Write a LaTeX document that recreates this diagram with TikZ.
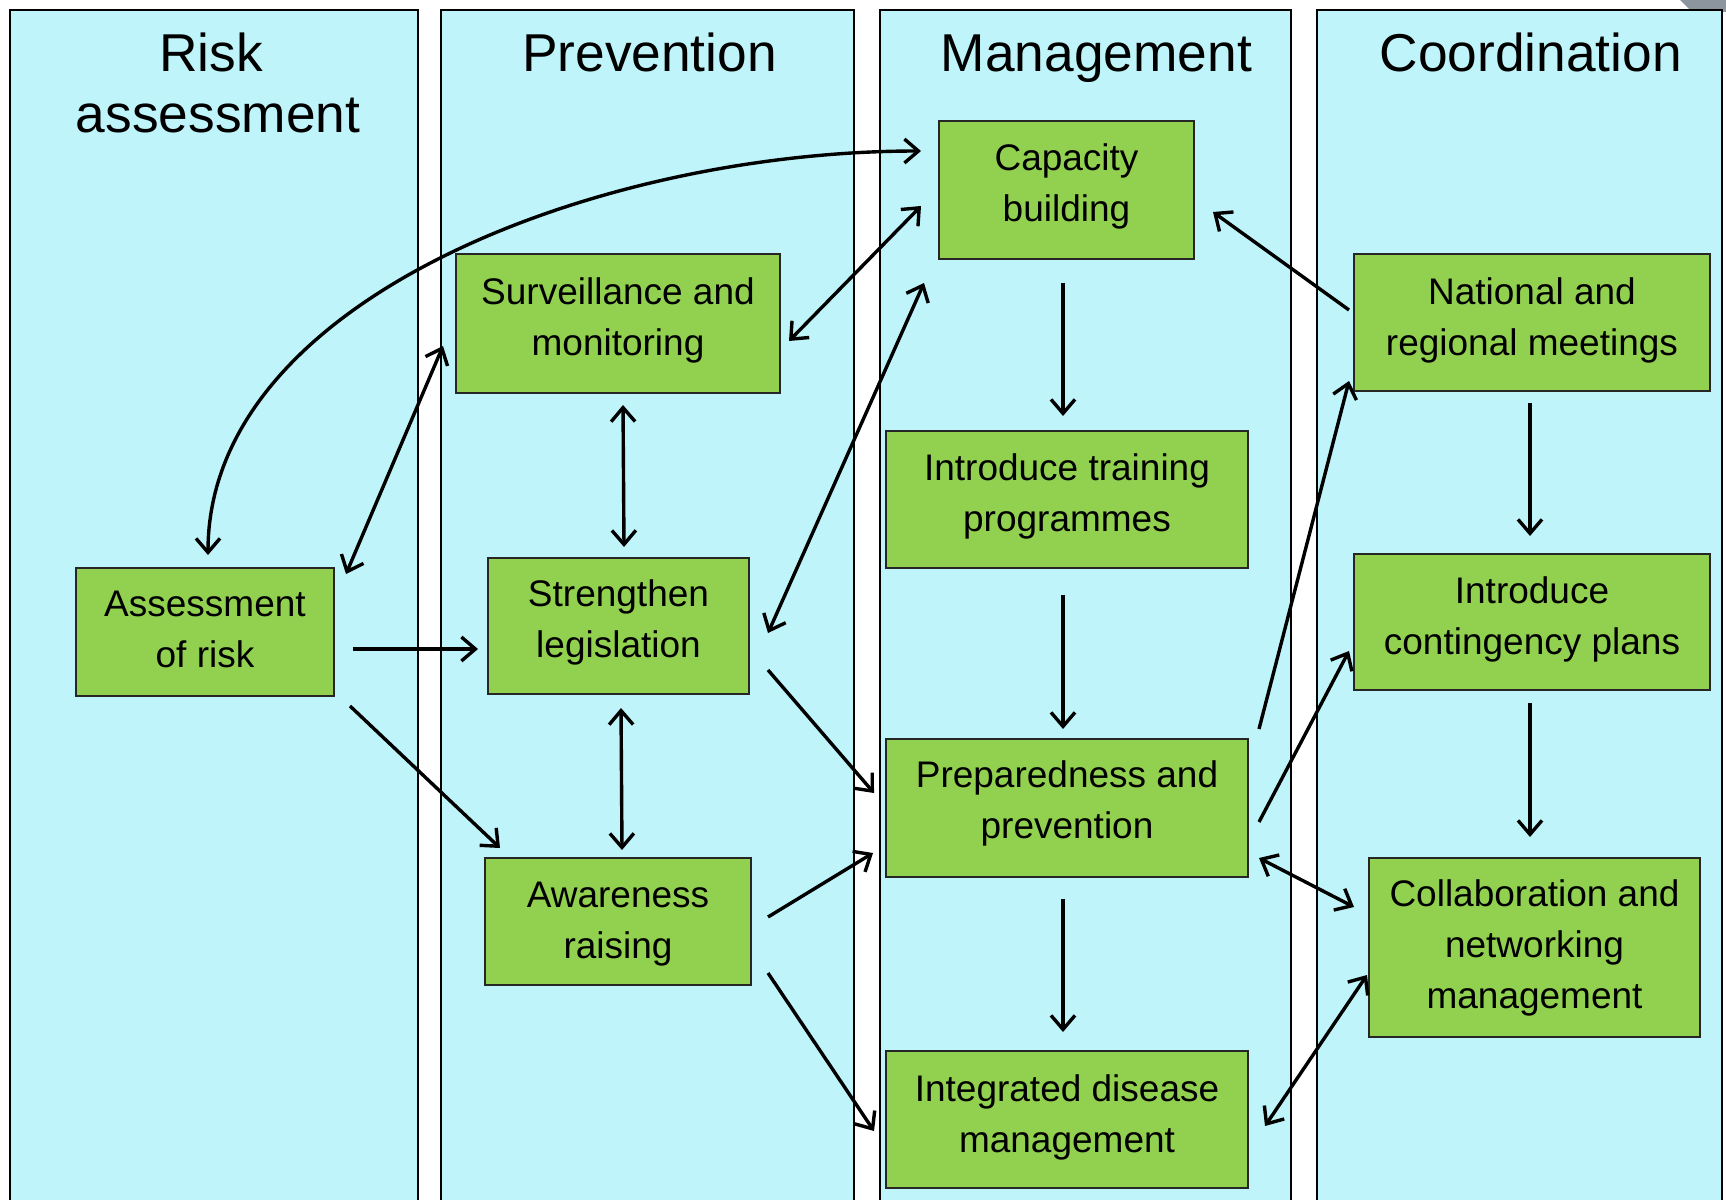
\documentclass[tikz,border=0pt]{standalone}
\usepackage{fontspec}
\setmainfont{Liberation Sans}
\usetikzlibrary{arrows.meta}
\definecolor{colfill}{RGB}{191,245,250}
\definecolor{boxfill}{RGB}{146,208,80}
\definecolor{cornergray}{RGB}{140,148,158}
\begin{document}
\begin{tikzpicture}[x=1pt,y=-1pt,
  lane/.style={draw=black,line width=2.2pt,fill=colfill},
  title/.style={font=\fontsize{53.3}{63}\selectfont,anchor=base,inner sep=0pt},
  box/.style={draw=black!85,line width=2pt,fill=boxfill,inner sep=0pt},
  boxtext/.style={align=center,inner sep=0pt,font=\fontsize{37}{51}\selectfont},
  tip/.tip={Straight Barb[length=14pt,width=24pt]},
  arr/.style={line width=3.4pt,-tip},
  dbl/.style={line width=3.4pt,tip-tip}]
\useasboundingbox (0,0) rectangle (1726,1199);
\clip (0,0) rectangle (1726,1199);
\fill[white] (0,0) rectangle (1726,1199);
\fill[cornergray] (1680,0) -- (1726,0) -- (1726,12) -- (1692,12) -- cycle;
% lanes
\draw[lane] (10,10) rectangle (418,1230);
\draw[lane] (441,10) rectangle (854,1230);
\draw[lane] (880,10) rectangle (1291,1230);
\draw[lane] (1317,10) rectangle (1722,1230);
% titles
\node[title] (t1a) at (211,71) {Risk};
\node[title] (t1b) at (218,132) {assessment};
\node[title] (t2) at (649.5,71) {Prevention};
\node[title] (t3) at (1096.5,71) {Management};
\node[title] (t4) at (1530.7,71) {Coordination};
% boxes
\node[box,minimum width=258pt,minimum height=128pt] (A) at (205,632) {};
\node[box,minimum width=324pt,minimum height=139pt] (S) at (618,323.5) {};
\node[box,minimum width=261pt,minimum height=136pt] (L) at (618.5,626) {};
\node[box,minimum width=266pt,minimum height=127pt] (W) at (618,921.5) {};
\node[box,minimum width=255pt,minimum height=138pt] (C) at (1066.5,190) {};
\node[box,minimum width=362pt,minimum height=137pt] (T) at (1067,499.5) {};
\node[box,minimum width=362pt,minimum height=138pt] (P) at (1067,808) {};
\node[box,minimum width=362pt,minimum height=137pt] (I) at (1067,1119.5) {};
\node[box,minimum width=356pt,minimum height=137pt] (N) at (1532,322.5) {};
\node[box,minimum width=356pt,minimum height=136pt] (G) at (1532,622) {};
\node[box,minimum width=331pt,minimum height=179pt] (K) at (1534.5,947.5) {};
% box texts
\node[boxtext] (At) at ([yshift=2.2pt]A.center) {Assessment\\of risk};
\node[boxtext] (St) at ([yshift=3pt]S.center) {Surveillance and\\monitoring};
\node[boxtext] (Lt) at ([yshift=3.3pt]L.center) {Strengthen\\legislation};
\node[boxtext] (Wt) at ([yshift=-2.2pt]W.center) {Awareness\\raising};
\node[boxtext] (Ct) at ([yshift=4pt]C.center) {Capacity\\building};
\node[boxtext] (Tt) at ([yshift=3pt]T.center) {Introduce training\\programmes};
\node[boxtext] (Pt) at ([yshift=4.5pt]P.center) {Preparedness and\\prevention};
\node[boxtext] (It) at ([yshift=2pt]I.center) {Integrated disease\\management};
\node[boxtext] (Nt) at ([yshift=2.5pt]N.center) {National and\\regional meetings};
\node[boxtext] (Gt) at ([yshift=3pt]G.center) {Introduce\\contingency plans};
\node[boxtext] (Kt) at (K.center) {Collaboration and\\networking\\management};
% connectors
\draw[dbl] ([shift={(3,-12)}]A.north) .. controls +(0,-256) and +(-322,0) .. ([shift={(-17,-39)}]C.west);
\draw[dbl] ([shift={(11,7)}]A.north east) -- ([shift={(-12,22.5)}]S.west);
\draw[arr] ([shift={(18,17)}]A.east) -- ([shift={(-9,23)}]L.west);
\draw[arr] ([shift={(15,9)}]A.south east) -- ([shift={(16,-9)}]W.north west);
\draw[dbl] ([shift={(8,17.5)}]S.east) -- ([shift={(-17,16)}]C.west);
\draw[dbl] ([shift={(5,11)}]S.south) -- ([shift={(5.5,-10)}]L.north);
\draw[dbl] ([shift={(18,7)}]L.east) -- ([shift={(-14,23)}]C.south west);
\draw[dbl] ([shift={(2.5,13)}]L.south) -- ([shift={(4,-7)}]W.north);
\draw[arr] ([shift={(18,44)}]L.east) -- ([shift={(-11,-15)}]P.west);
\draw[arr] ([shift={(16,-4.5)}]W.east) -- ([shift={(-12,45)}]P.west);
\draw[arr] ([shift={(16,51.5)}]W.east) -- ([shift={(-11,11.5)}]I.west);
\draw[arr] ([shift={(-3.5,23)}]C.south) -- ([shift={(-4,-14)}]T.north);
\draw[arr] ([shift={(-4,26)}]T.south) -- ([shift={(-4,-9)}]P.north);
\draw[arr] ([shift={(-4,21)}]P.south) -- ([shift={(-4,-18)}]I.north);
\draw[arr] ([shift={(-4,-12.5)}]N.west) -- ([shift={(18,22)}]C.east);
\draw[arr] ([shift={(10,-9)}]P.north east) -- ([shift={(-4,-11)}]N.south west);
\draw[arr] ([shift={(10,14)}]P.east) -- ([shift={(-4,29)}]G.west);
\draw[dbl] ([shift={(10,50)}]P.east) -- ([shift={(-14,-40.5)}]K.west);
\draw[dbl] ([shift={(16,6.5)}]I.east) -- ([shift={(-1,27.5)}]K.west);
\draw[arr] ([shift={(-2,11)}]N.south) -- ([shift={(-2,-17)}]G.north);
\draw[arr] ([shift={(-2,12)}]G.south) -- ([shift={(-4.5,-20)}]K.north);
\end{tikzpicture}
\end{document}
